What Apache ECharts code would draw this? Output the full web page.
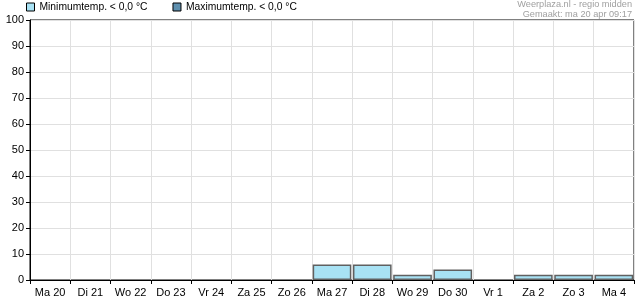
<!DOCTYPE html>
<html><head><meta charset="utf-8">
<script src="https://cdn.jsdelivr.net/npm/echarts@6/dist/echarts.min.js"></script>
<style>html,body{margin:0;padding:0;background:#fff}#c{width:635px;height:300px}</style>
</head><body><div id="c"></div>
<script>
const categories = ['Ma 20','Di 21','Wo 22','Do 23','Vr 24','Za 25','Zo 26','Ma 27','Di 28','Wo 29','Do 30','Vr 1','Za 2','Zo 3','Ma 4'];
const minTemp = [0,0,0,0,0,0,0,6,6,2,4,0,2,2,2];
const maxTemp = [0,0,0,0,0,0,0,0,0,0,0,0,0,0,0];
const yTicks = [0,10,20,30,40,50,60,70,80,90,100];
const seriesNames = ['Minimumtemp. < 0,0 °C', 'Maximumtemp. < 0,0 °C'];
const headerLines = ['Weerplaza.nl - regio midden', 'Gemaakt: ma 20 apr 09:17'];
const font = 'Arial, "Liberation Sans", sans-serif';
const hideZero = arr => arr.map(v => v === 0 ? '-' : v);
const chart = echarts.init(document.getElementById('c'), null, {renderer:'canvas'});
chart.setOption({
  animation: false,
  backgroundColor: '#fff',
  graphic: headerLines.map((t, i) => ({
    type: 'text', right: 3, top: 0 + i * 10,
    style: {text: t, font: '9.2px ' + font, fill: '#a0a0a0', textAlign: 'right'}
  })),
  legend: {
    left: 26, top: 2, padding: 0, itemGap: 25,
    itemWidth: 8, itemHeight: 8, icon: 'rect',
    textStyle: {fontSize: 10.3, color: '#000', fontFamily: font},
    data: [
      {name: seriesNames[0], itemStyle: {color: '#a8e2f4', borderColor: '#000', borderWidth: 1}},
      {name: seriesNames[1], itemStyle: {color: '#5e8fae', borderColor: '#000', borderWidth: 1}}
    ]
  },
  grid: {left: 30, right: 1, top: 20, bottom: 20, show: true, borderColor: '#000', borderWidth: 1, containLabel: false},
  xAxis: {
    type: 'category', data: categories, boundaryGap: true,
    axisLine: {lineStyle: {color: '#000', width: 1}},
    axisTick: {show: true, length: 4, interval: 0, lineStyle: {color: '#000'}},
    axisLabel: {interval: 0, fontSize: 11, color: '#000', fontFamily: font, margin: 7},
    splitLine: {show: true, interval: 0, lineStyle: {color: '#e0e0e0', width: 1}}
  },
  yAxis: {
    type: 'value', min: yTicks[0], max: yTicks[yTicks.length-1], interval: 10,
    axisLine: {show: true, lineStyle: {color: '#000', width: 1}},
    axisTick: {show: true, length: 4, lineStyle: {color: '#000'}},
    axisLabel: {fontSize: 11, color: '#000', fontFamily: font, margin: 6},
    splitLine: {show: true, lineStyle: {color: '#e0e0e0', width: 1}}
  },
  series: [
    {name: seriesNames[0], type: 'bar', data: hideZero(minTemp), barCategoryGap: '4%', barGap: '-100%',
     itemStyle: {color: '#a8e2f4', borderColor: '#606060', borderWidth: 1.5}},
    {name: seriesNames[1], type: 'bar', data: hideZero(maxTemp), barCategoryGap: '4%',
     itemStyle: {color: '#5e8fae', borderColor: '#606060', borderWidth: 1.5}}
  ]
});
</script></body></html>
